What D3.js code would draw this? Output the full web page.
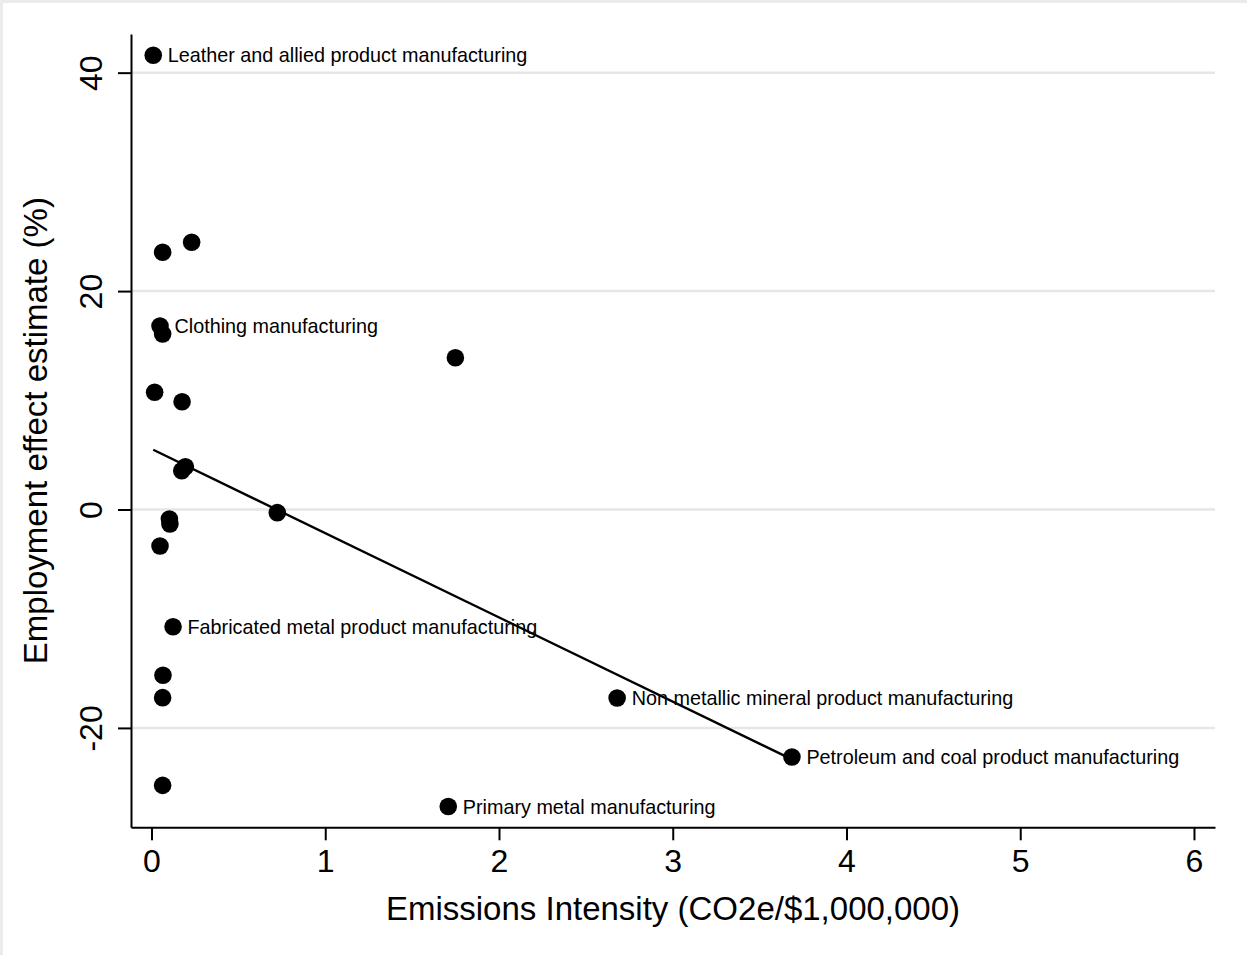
<!DOCTYPE html>
<html>
<head>
<meta charset="utf-8">
<script src="https://cdn.jsdelivr.net/npm/d3@7"></script>
<style>
  body { margin: 0; background: #fff; }
  svg { display: block; font-family: "Liberation Sans", Arial, sans-serif; }
</style>
</head>
<body>
<svg id="chart" width="1247" height="955"></svg>
<script>
// emissions intensity (x) and employment effect (y) per industry
const intensity = [0.01, 0.064, 0.231, 0.049, 0.064, 0.018, 0.176, 0.174, 0.195, 0.724,
  0.103, 0.106, 0.049, 1.749, 0.124, 0.066, 0.064, 0.064, 1.708, 2.68, 3.686];
const effect = [41.6, 23.55, 24.47, 16.8, 16.07, 10.73, 9.87, 3.55, 3.92, -0.29,
  -0.87, -1.33, -3.34, 13.9, -10.73, -15.18, -17.23, -25.26, -27.2, -17.26, -22.66];
const names = ["Leather and allied product manufacturing", "", "", "Clothing manufacturing", "", "", "", "", "", "",
  "", "", "", "", "Fabricated metal product manufacturing", "", "", "", "Primary metal manufacturing",
  "Non metallic mineral product manufacturing", "Petroleum and coal product manufacturing"];
const xTicks = [0, 1, 2, 3, 4, 5, 6];
const yTicks = [-20, 0, 20, 40];

const data = intensity.map((v, i) => ({ x: v, y: effect[i], name: names[i] }));

const svg = d3.select("#chart");

// outer frame (graph region outline)
svg.append("rect")
  .attr("x", 1.5).attr("y", 1.5)
  .attr("width", 1260).attr("height", 970)
  .attr("fill", "#fff")
  .attr("stroke", "#ebebeb")
  .attr("stroke-width", 3);

const x = d3.scaleLinear().domain([-0.118, 6.121]).range([131, 1215]);
const y = d3.scaleLinear().domain([-29.1, 43.54]).range([827.3, 34]);

// plain labels with ascii hyphen, as in the original
const plain = d => String(d);

// gridlines
svg.append("g")
  .selectAll("line")
  .data(yTicks)
  .join("line")
  .attr("x1", x.range()[0]).attr("x2", x.range()[1])
  .attr("y1", d => y(d)).attr("y2", d => y(d))
  .attr("stroke", "#e6e6e6")
  .attr("stroke-width", 2.5);

// y axis
const gy = svg.append("g")
  .attr("transform", "translate(" + x.range()[0] + ",0)")
  .call(d3.axisLeft(y).tickValues(yTicks).tickFormat(plain).tickSize(13).tickSizeOuter(0));
gy.select(".domain").attr("stroke-width", 2);
gy.selectAll(".tick line").attr("stroke-width", 2);
gy.selectAll(".tick text")
  .attr("x", null).attr("dy", null)
  .attr("transform", "translate(-29.5,0) rotate(-90)")
  .attr("text-anchor", "middle")
  .attr("font-size", 32)
  .attr("fill", "#000");

// x axis
const gx = svg.append("g")
  .attr("transform", "translate(0," + y.range()[0] + ")")
  .call(d3.axisBottom(x).tickValues(xTicks).tickFormat(plain).tickSize(13).tickSizeOuter(0));
gx.select(".domain").attr("stroke-width", 2);
gx.selectAll(".tick line").attr("stroke-width", 2);
gx.selectAll(".tick text")
  .attr("dy", null).attr("y", 44.5)
  .attr("font-size", 32)
  .attr("fill", "#000");

// axis titles
svg.append("text")
  .attr("transform", "translate(46.5," + (y.range()[0] + y.range()[1]) / 2 + ") rotate(-90)")
  .attr("text-anchor", "middle")
  .attr("font-size", 33)
  .text("Employment effect estimate (%)");

svg.append("text")
  .attr("x", (x.range()[0] + x.range()[1]) / 2)
  .attr("y", 920)
  .attr("text-anchor", "middle")
  .attr("font-size", 33)
  .text("Emissions Intensity (CO2e/$1,000,000)");

// points
svg.append("g")
  .selectAll("circle")
  .data(data)
  .join("circle")
  .attr("cx", d => x(d.x))
  .attr("cy", d => y(d.y))
  .attr("r", 8.8)
  .attr("fill", "#000");

// marker labels
svg.append("g")
  .selectAll("text")
  .data(data.filter(d => d.name))
  .join("text")
  .attr("x", d => x(d.x) + 14.5)
  .attr("y", d => y(d.y) + 7)
  .attr("font-size", 19.8)
  .attr("fill", "#000")
  .text(d => d.name);

// linear fit (OLS)
const mx = d3.mean(intensity), my = d3.mean(effect);
const slope = d3.sum(data, d => (d.x - mx) * (d.y - my)) / d3.sum(data, d => (d.x - mx) ** 2);
const icpt = my - slope * mx;
const [x0, x1] = d3.extent(intensity);
svg.append("path")
  .datum([x0, x1])
  .attr("d", d3.line().x(d => x(d)).y(d => y(icpt + slope * d)))
  .attr("fill", "none")
  .attr("stroke", "#000")
  .attr("stroke-width", 2.4);
</script>
</body>
</html>
